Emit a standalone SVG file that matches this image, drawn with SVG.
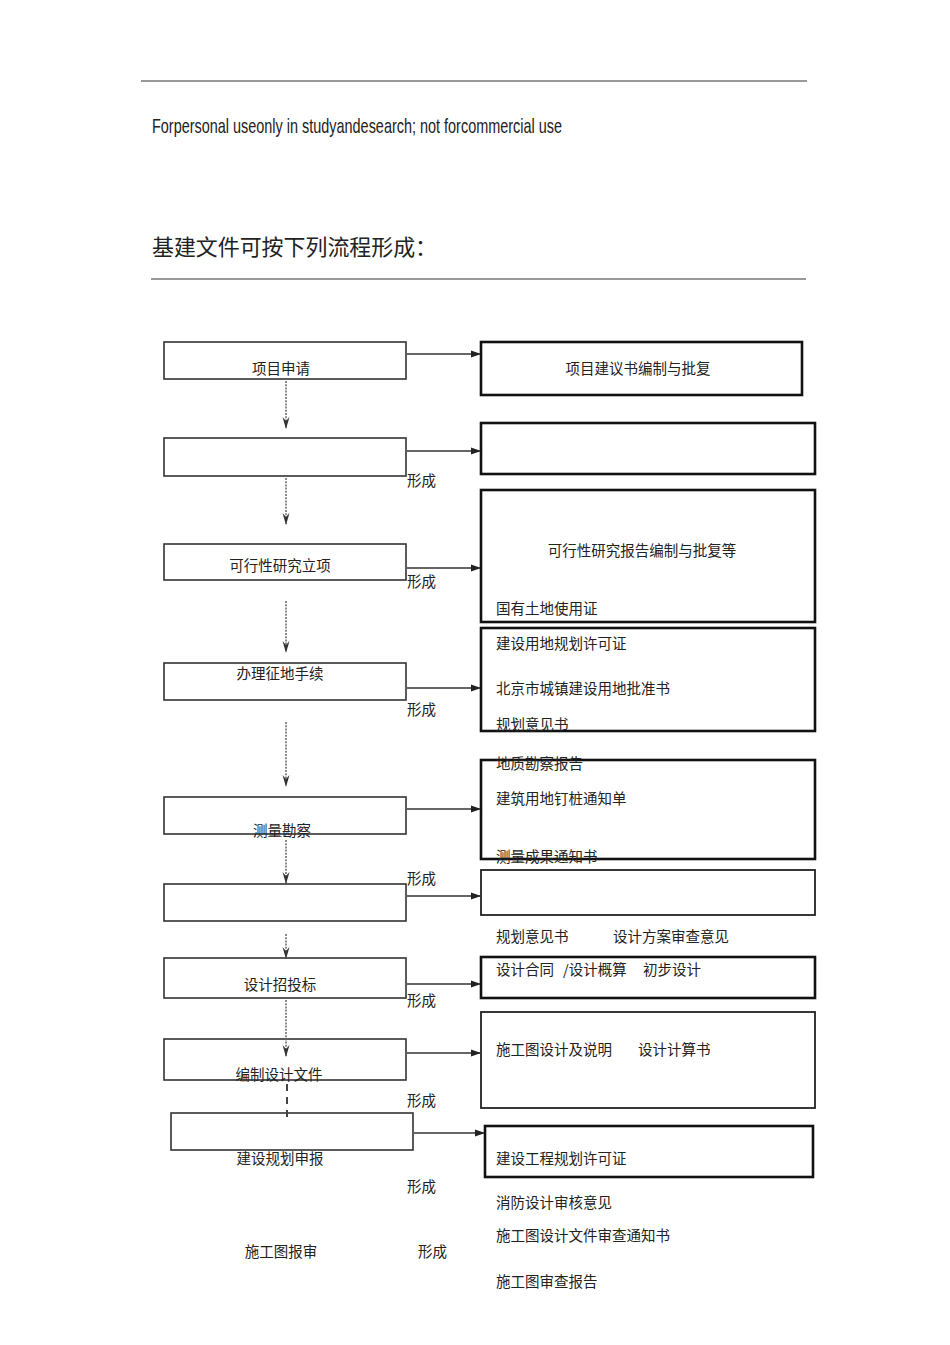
<svg xmlns="http://www.w3.org/2000/svg" width="950" height="1345" viewBox="0 0 950 1345">
<defs>
<marker id="ah" markerWidth="10" markerHeight="8" refX="9" refY="4" orient="auto" markerUnits="userSpaceOnUse">
<path d="M0,0.5 L10,4 L0,7.5 Z" fill="#222"/>
</marker>
<marker id="av" markerWidth="8" markerHeight="12" refX="4" refY="11" orient="0" markerUnits="userSpaceOnUse">
<path d="M0.5,0 L4,12 L7.5,0 L4,4 Z" fill="#333"/>
</marker>
<style>
text{font-family:"Noto Sans CJK SC","Liberation Serif",serif;font-size:14.5px;fill:#222}
.mid{text-anchor:middle}
.lb{fill:#fff;stroke:#333;stroke-width:1.6}
.rb{fill:#fff;stroke:#111;stroke-width:2.6}
.rt{fill:#fff;stroke:#222;stroke-width:1.8}
.h{stroke:#666;stroke-width:1.8;fill:none;marker-end:url(#ah)}
.v{stroke:#666;stroke-width:1.5;stroke-dasharray:2,1.2;fill:none;marker-end:url(#av)}
.rule{stroke:#777;stroke-width:1.5}
</style>
</defs>
<rect width="950" height="1345" fill="#fff"/>
<line class="rule" x1="141" y1="81" x2="807" y2="81"/>
<text x="152" y="133" style="font-family:'Liberation Sans',sans-serif;font-size:21px" textLength="410" lengthAdjust="spacingAndGlyphs">Forpersonal useonly in studyandesearch; not forcommercial use</text>
<text x="152" y="255" style="font-size:22px" textLength="285" lengthAdjust="spacingAndGlyphs">基建文件可按下列流程形成：</text>
<line class="rule" x1="151" y1="279" x2="806" y2="279"/>

<g id="n1"><rect class="lb" x="164" y="342" width="242" height="37"/><text class="mid" x="281" y="374">项目申请</text></g>
<g id="n2"><rect class="lb" x="164" y="438" width="242" height="38"/></g>
<g id="n3"><rect class="lb" x="164" y="544" width="242" height="36"/><text class="mid" x="280" y="571">可行性研究立项</text></g>
<g id="n4"><rect class="lb" x="164" y="663" width="242" height="37"/><text class="mid" x="280" y="679">办理征地手续</text></g>
<g id="n5"><rect class="lb" x="164" y="797" width="242" height="37"/><text class="mid" x="282" y="836">测量勘察</text></g>
<g id="n6"><rect class="lb" x="164" y="884" width="242" height="37"/></g>
<g id="n7"><rect class="lb" x="164" y="958" width="242" height="40"/><text class="mid" x="280" y="990">设计招投标</text></g>
<g id="n8"><rect class="lb" x="164" y="1039" width="242" height="41"/><text class="mid" x="279" y="1080">编制设计文件</text></g>
<g id="n9"><rect class="lb" x="171" y="1113" width="242" height="37"/><text class="mid" x="280" y="1164">建设规划申报</text></g>
<g id="n10"><text class="mid" x="281" y="1257">施工图报审</text></g>

<g id="labels">
<text x="407" y="486">形成</text>
<text x="407" y="587">形成</text>
<text x="407" y="715">形成</text>
<text x="407" y="884">形成</text>
<text x="407" y="1006">形成</text>
<text x="407" y="1106">形成</text>
<text x="407" y="1192">形成</text>
<text x="418" y="1257">形成</text>
</g>

<g id="r1"><rect class="rb" x="481" y="342" width="321" height="53"/><text class="mid" x="638" y="374">项目建议书编制与批复</text></g>
<g id="r2"><rect class="rb" x="481" y="423" width="334" height="51"/></g>
<g id="r3"><rect class="rb" x="481" y="490" width="334" height="132"/><text class="mid" x="642" y="556">可行性研究报告编制与批复等</text><text x="496" y="614">国有土地使用证</text></g>
<g id="r4"><rect class="rb" x="481" y="628" width="334" height="103"/><text x="496" y="649">建设用地规划许可证</text><text x="496" y="694">北京市城镇建设用地批准书</text><text x="496" y="730">规划意见书</text></g>
<g id="r5"><rect class="rb" x="481" y="760" width="334" height="99"/><text x="496" y="769">地质勘察报告</text><text x="496" y="804">建筑用地钉桩通知单</text><text x="496" y="862">测量成果通知书</text></g>
<g id="r6"><rect class="rt" x="481" y="870" width="334" height="45"/><text x="496" y="942">规划意见书</text><text x="613" y="942">设计方案审查意见</text></g>
<g id="r7"><rect class="rb" x="481" y="957" width="334" height="41"/><text x="496" y="975">设计合同</text><text x="563" y="975">/设计概算</text><text x="643" y="975">初步设计</text></g>
<g id="r8"><rect class="rt" x="481" y="1012" width="334" height="96"/><text x="496" y="1055">施工图设计及说明</text><text x="638" y="1055">设计计算书</text></g>
<g id="r9"><rect class="rb" x="485" y="1126" width="328" height="51"/><text x="496" y="1164">建设工程规划许可证</text></g>
<g id="r10"><text x="496" y="1208">消防设计审核意见</text><text x="496" y="1241">施工图设计文件审查通知书</text><text x="496" y="1287">施工图审查报告</text></g>

<g id="connectors">
<line class="h" x1="407" y1="354" x2="480" y2="354"/>
<line class="h" x1="407" y1="451" x2="480" y2="451"/>
<line class="h" x1="407" y1="568" x2="480" y2="568"/>
<line class="h" x1="407" y1="688" x2="480" y2="688"/>
<line class="h" x1="407" y1="809" x2="480" y2="809"/>
<line class="h" x1="407" y1="896" x2="480" y2="896"/>
<line class="h" x1="407" y1="984" x2="480" y2="984"/>
<line class="h" x1="407" y1="1053" x2="480" y2="1053"/>
<line class="h" x1="414" y1="1133" x2="484" y2="1133"/>
<line class="v" x1="286" y1="381" x2="286" y2="428"/>
<line class="v" x1="286" y1="478" x2="286" y2="524"/>
<line class="v" x1="286" y1="601" x2="286" y2="652"/>
<line class="v" x1="286" y1="722" x2="286" y2="786"/>
<line class="v" x1="286" y1="840" x2="286" y2="883"/>
<line class="v" x1="286" y1="934" x2="286" y2="958"/>
<line class="v" x1="286" y1="1000" x2="286" y2="1056"/>
<line x1="287" y1="1084" x2="287" y2="1122" stroke="#444" stroke-width="2" stroke-dasharray="7,6"/>
</g>
</svg>
